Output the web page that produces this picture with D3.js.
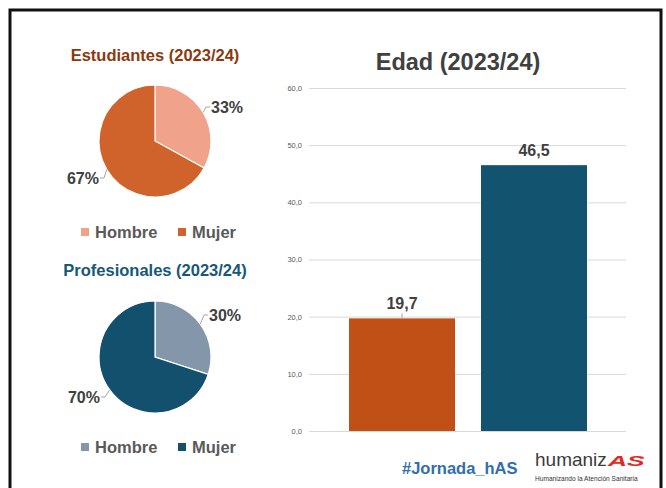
<!DOCTYPE html>
<html><head><meta charset="utf-8">
<script src="https://cdn.jsdelivr.net/npm/d3@7"></script>
<style>body{margin:0;background:#fff}svg{display:block;font-family:"Liberation Sans",Arial,sans-serif}</style>
</head><body>
<svg id="c" width="666" height="488"></svg>
<script>
const pieCategories = ["Hombre", "Mujer"];
const estudiantesValues = [33, 67];
const profesionalesValues = [30, 70];
const estudiantesColors = ["#F0A28A", "#CF632B"];
const profesionalesColors = ["#8497AA", "#12506E"];
const barCategories = ["Estudiantes", "Profesionales"];
const edadValues = [19.7, 46.5];
const barColors = ["#C05016", "#12536F"];
const yTicks = [0, 10, 20, 30, 40, 50, 60];

const svg = d3.select("#c");
svg.append("rect").attr("x", 10).attr("y", 10).attr("width", 651).attr("height", 490)
  .attr("fill", "none").attr("stroke", "#111").attr("stroke-width", 3);

function drawPie(cfg) {
  const g = svg.append("g").attr("transform", `translate(${cfg.cx},${cfg.cy})`);
  svg.append("text").attr("x", cfg.cx).attr("y", cfg.titleY).attr("text-anchor", "middle")
    .attr("dominant-baseline", "central").attr("font-size", 16.5).attr("font-weight", "bold")
    .attr("fill", cfg.titleColor).text(cfg.title);
  const pie = d3.pie().sort(null).value(d => d)(cfg.values);
  const arc = d3.arc().innerRadius(0).outerRadius(cfg.r);
  g.selectAll("path").data(pie).join("path").attr("d", arc)
    .attr("fill", (d, i) => cfg.colors[i]).attr("stroke", "#fff").attr("stroke-width", 1.2);
  const fmt = d3.format(".0%");
  pie.forEach((d, i) => {
    const lp = cfg.labelPos[i];
    const mid = (d.startAngle + d.endAngle) / 2;
    const ex = Math.sin(mid) * cfg.r, ey = -Math.cos(mid) * cfg.r;
    g.append("path").attr("d", `M${ex},${ey} L${lp.lx},${lp.ly} L${lp.lx2},${lp.ly}`)
      .attr("fill", "none").attr("stroke", "#A6A6A6").attr("stroke-width", 1);
    g.append("text").attr("x", lp.tx).attr("y", lp.ly).attr("text-anchor", lp.anchor)
      .attr("dominant-baseline", "central").attr("font-size", 16).attr("font-weight", "bold")
      .attr("fill", "#404040").text(fmt(cfg.values[i] / 100));
  });
  const lg = svg.append("g");
  cfg.legendX.forEach((lx, i) => {
    lg.append("rect").attr("x", lx).attr("y", cfg.legendY - 4).attr("width", 8).attr("height", 8)
      .attr("fill", cfg.colors[i]);
    lg.append("text").attr("x", lx + 14).attr("y", cfg.legendY).attr("dominant-baseline", "central")
      .attr("font-size", 16.5).attr("font-weight", "bold").attr("fill", "#595959").text(pieCategories[i]);
  });
}

drawPie({cx: 155, cy: 141, r: 56, values: estudiantesValues, colors: estudiantesColors,
  title: "Estudiantes (2023/24)", titleY: 55, titleColor: "#8B3A10",
  labelPos: [{lx: 51, ly: -34, lx2: 55, tx: 56, anchor: "start"},
             {lx: -51, ly: 37, lx2: -55, tx: -56, anchor: "end"}],
  legendX: [81, 178], legendY: 232});

drawPie({cx: 155, cy: 357, r: 56, values: profesionalesValues, colors: profesionalesColors,
  title: "Profesionales (2023/24)", titleY: 270, titleColor: "#17587A",
  labelPos: [{lx: 49, ly: -42, lx2: 53, tx: 54, anchor: "start"},
             {lx: -50, ly: 40, lx2: -54, tx: -55, anchor: "end"}],
  legendX: [81, 178], legendY: 447});

// Bar chart
const y = d3.scaleLinear().domain([0, 60]).range([431, 88]);
const x = d3.scaleBand().domain(barCategories).range([336, 600]).paddingInner(0.197).paddingOuter(0.0985);
const gridL = 309, gridR = 626;
svg.append("text").attr("x", 458).attr("y", 62).attr("text-anchor", "middle").attr("dominant-baseline", "central")
  .attr("font-size", 23.5).attr("font-weight", "bold").attr("fill", "#404040").text("Edad (2023/24)");
const axis = d3.axisLeft(y).tickValues(yTicks).tickSize(-(gridR - gridL)).tickPadding(7)
  .tickFormat(d => d3.format(".1f")(d).replace(".", ","));
const ag = svg.append("g").attr("transform", `translate(${gridL},0)`).call(axis);
ag.select(".domain").remove();
ag.selectAll(".tick line").attr("stroke", "#D9D9D9").attr("stroke-width", 1);
ag.selectAll(".tick text").attr("fill", "#595959").attr("font-size", 7.5)
  .attr("font-family", "'Liberation Sans',Arial,sans-serif");

svg.selectAll(".bar").data(edadValues).join("rect").attr("class", "bar")
  .attr("x", (d, i) => x(barCategories[i])).attr("width", x.bandwidth())
  .attr("y", d => y(d)).attr("height", d => y(0) - y(d)).attr("fill", (d, i) => barColors[i]);
svg.append("line").attr("x1", x(barCategories[0]) + x.bandwidth() / 2).attr("x2", x(barCategories[0]) + x.bandwidth() / 2)
  .attr("y1", y(edadValues[0]) - 5).attr("y2", y(edadValues[0])).attr("stroke", "#A6A6A6");
svg.selectAll(".bl").data(edadValues).join("text").attr("class", "bl")
  .attr("x", (d, i) => x(barCategories[i]) + x.bandwidth() / 2).attr("y", d => y(d) - 15)
  .attr("text-anchor", "middle").attr("dominant-baseline", "central")
  .attr("font-size", 16).attr("font-weight", "bold").attr("fill", "#404040")
  .text(d => d3.format(".1f")(d).replace(".", ","));

// Footer
svg.append("text").attr("x", 402).attr("y", 468).attr("dominant-baseline", "central")
  .attr("font-size", 16.5).attr("font-weight", "bold").attr("fill", "#2F6EB0").text("#Jornada_hAS");
svg.append("text").attr("x", 535).attr("y", 466).attr("font-size", 19)
  .attr("fill", "#3c3c3c").text("humaniz");
svg.append("g").attr("transform", "translate(608,466) scale(1.7,1)")
  .append("text").attr("x", 0).attr("y", 0).attr("font-size", 15.5).attr("fill", "#E32A22")
  .attr("font-weight", "bold").attr("font-style", "italic").text("AS");
svg.append("text").attr("x", 535).attr("y", 481).attr("font-size", 6.6).attr("fill", "#333")
  .text("Humanizando la Atención Sanitaria");
</script>
</body></html>
